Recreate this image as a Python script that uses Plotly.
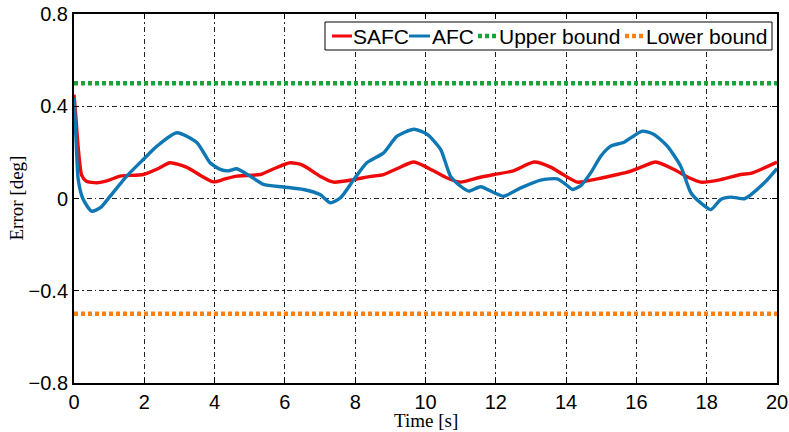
import plotly.graph_objects as go

# ---- data ----
safc_t = [0, 0.05, 0.12, 0.22, 0.35, 0.65, 1.0, 1.31, 1.97, 2.4, 2.73, 3.21, 3.6, 3.97,
          4.3, 4.63, 5.3, 5.7, 6.15, 6.5, 7.0, 7.39, 7.96, 8.4, 8.81, 9.2, 9.67, 10.24,
          10.6, 11.0, 11.5, 11.95, 12.5, 13.09, 13.56, 13.9, 14.32, 14.89, 15.46, 15.84,
          16.2, 16.55, 17.07, 17.5, 17.83, 18.4, 18.97, 19.26, 19.6, 20]
safc_v = [0.45, 0.36, 0.22, 0.10, 0.075, 0.068, 0.08, 0.097, 0.104, 0.13, 0.155, 0.135,
          0.10, 0.072, 0.085, 0.097, 0.104, 0.13, 0.155, 0.145, 0.097, 0.071, 0.082, 0.095,
          0.104, 0.13, 0.158, 0.119, 0.09, 0.071, 0.09, 0.104, 0.12, 0.158, 0.136, 0.105,
          0.071, 0.085, 0.104, 0.119, 0.14, 0.158, 0.126, 0.09, 0.071, 0.082, 0.104, 0.109,
          0.13, 0.158]

afc_t = [0, 0.06, 0.12, 0.25, 0.5, 0.75, 1.03, 1.5, 1.97, 2.36, 2.93, 3.5, 3.87, 4.16,
         4.4, 4.63, 5.01, 5.39, 5.96, 6.53, 7.0, 7.29, 7.58, 7.96, 8.33, 8.81, 9.19, 9.67,
         10.05, 10.43, 10.71, 11.0, 11.23, 11.57, 11.95, 12.23, 12.71, 13.28, 13.75, 13.99,
         14.18, 14.42, 14.7, 14.99, 15.27, 15.65, 15.84, 16.17, 16.5, 16.88, 17.26, 17.55,
         17.83, 18.12, 18.4, 18.69, 19.07, 19.26, 19.64, 20]
afc_v = [0.437, 0.25, 0.082, 0.0, -0.055, -0.04, 0.01, 0.097, 0.169, 0.227, 0.285, 0.242,
         0.155, 0.126, 0.12, 0.129, 0.097, 0.061, 0.05, 0.039, 0.017, -0.019, 0.003, 0.082,
         0.155, 0.198, 0.27, 0.30, 0.278, 0.213, 0.097, 0.053, 0.032, 0.051, 0.025, 0.01,
         0.046, 0.08, 0.085, 0.061, 0.039, 0.056, 0.111, 0.184, 0.227, 0.244, 0.263, 0.292,
         0.278, 0.227, 0.14, 0.025, -0.019, -0.048, -0.004, 0.006, -0.001, 0.017, 0.068, 0.13]

bound_t = [0, 20]
upper_v = [0.5, 0.5]
lower_v = [-0.5, -0.5]

x_ticks = [0, 2, 4, 6, 8, 10, 12, 14, 16, 18, 20]
y_ticks = [-0.8, -0.4, 0, 0.4, 0.8]

series_names = ["SAFC", "AFC", "Upper bound", "Lower bound"]
series_colors = ["#ee0a0a", "#0f78b4", "#1aa33a", "#ff7f0e"]

# ---- layout geometry (pixels) ----
W, H = 789, 432
ML, MR, MT, MB = 74, 12, 14, 49
PW, PH = W - ML - MR, H - MT - MB


def px_x(p):
    return (p - ML) / PW


def px_y(p):
    return (H - MB - p) / PH


fig = go.Figure()
fig.add_trace(go.Scatter(x=safc_t, y=safc_v, mode="lines", name=series_names[0],
                         line=dict(color=series_colors[0], width=3.4, shape="spline", smoothing=0.6)))
fig.add_trace(go.Scatter(x=afc_t, y=afc_v, mode="lines", name=series_names[1],
                         line=dict(color=series_colors[1], width=3.4, shape="spline", smoothing=0.6)))
fig.add_trace(go.Scatter(x=bound_t, y=upper_v, mode="lines", name=series_names[2],
                         line=dict(color=series_colors[2], width=4.5, dash="4px,3px")))
fig.add_trace(go.Scatter(x=bound_t, y=lower_v, mode="lines", name=series_names[3],
                         line=dict(color=series_colors[3], width=4.5, dash="4px,3px")))

axis_common = dict(
    showline=True, linecolor="black", linewidth=2, mirror="ticks",
    ticks="inside", ticklen=5, tickcolor="black", tickwidth=1,
    showgrid=True, gridcolor="#222222", gridwidth=1, griddash="5px,3px,1.5px,3px",
    zeroline=False, automargin=False,
    tickfont=dict(family="Liberation Sans, Arial, sans-serif", size=20, color="black"),
)
fig.update_xaxes(range=[0, 20], tickvals=x_ticks, **axis_common)
fig.update_yaxes(range=[-0.8, 0.8], tickvals=y_ticks, **axis_common)

serif = dict(family="Liberation Serif, Times New Roman, serif", size=19, color="black")
sans = dict(family="Liberation Sans, Arial, sans-serif", size=21, color="black")

annotations = [
    dict(text="Time [s]", xref="paper", yref="paper", x=0.5, y=px_y(421),
         xanchor="center", yanchor="middle", showarrow=False, font=serif, borderpad=0),
    dict(text="Error [deg]", xref="paper", yref="paper", x=px_x(16), y=0.5,
         xanchor="center", yanchor="middle", showarrow=False, textangle=-90, font=serif),
]

# ---- legend box drawn in the MATLAB style (short samples, large text) ----
shapes = [dict(type="rect", xref="paper", yref="paper", x0=px_x(325), x1=px_x(772),
               y0=px_y(50), y1=px_y(22), fillcolor="white",
               line=dict(color="black", width=1), layer="above")]
leg_y = 36
sample_px = [(332, 352), (409, 430), (478, 497), (625, 645)]
text_px = [352, 431, 498, 645]
for i, name in enumerate(series_names):
    dotted = i >= 2
    shapes.append(dict(type="line", xref="paper", yref="paper",
                       x0=px_x(sample_px[i][0]), x1=px_x(sample_px[i][1]),
                       y0=px_y(leg_y), y1=px_y(leg_y), layer="above",
                       line=dict(color=series_colors[i], width=4.5 if dotted else 3,
                                 dash="4px,3px" if dotted else "solid")))
    annotations.append(dict(text=name, xref="paper", yref="paper", x=px_x(text_px[i]),
                            y=px_y(leg_y), xanchor="left", yanchor="middle",
                            showarrow=False, font=sans, borderpad=0))

fig.update_layout(
    width=W, height=H,
    margin=dict(l=ML, r=MR, t=MT, b=MB),
    paper_bgcolor="white", plot_bgcolor="white",
    showlegend=False,
    shapes=shapes, annotations=annotations,
)

fig.write_html("out.html",
               config={"displayModeBar": False},
               post_script="document.body.style.margin='0';"
                           "document.body.style.overflow='hidden';")
